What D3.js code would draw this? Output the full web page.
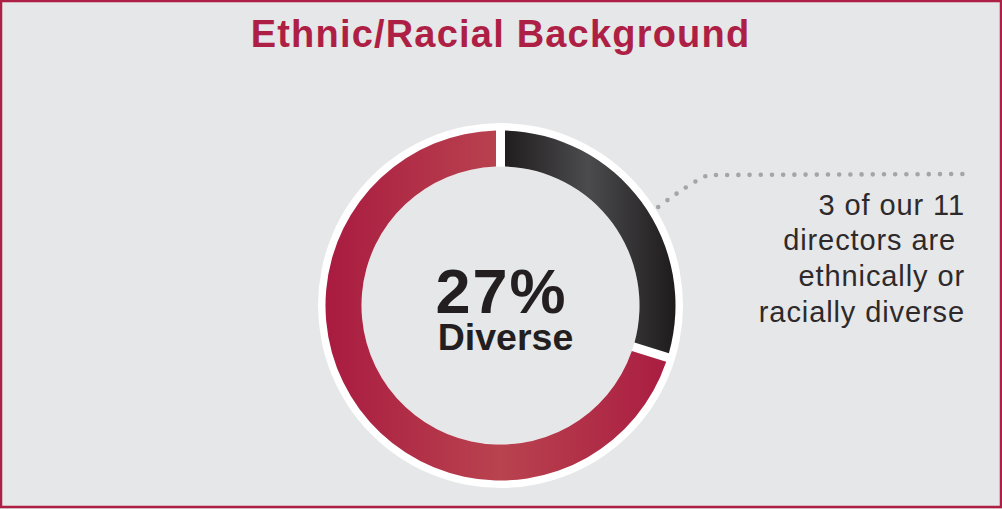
<!DOCTYPE html>
<html>
<head>
<meta charset="utf-8">
<script src="https://cdn.jsdelivr.net/npm/d3@7"></script>
<style>
  html, body { margin: 0; padding: 0; background: #e6e7e8; }
  svg { display: block; }
</style>
</head>
<body>
<script>
var w = 1002,
h = 509,
cx = 500.5,
cy = 305.5,
red = "#ae1f45",
ink = "#231f20",

// ring sizes
outerR = 175,
innerR = 139,
haloR = 182.5;

// data
var categories = ["Diverse", "Not diverse"];
var shares = [29.8, 70.2];          // share of the ring, in %
var bigLabel = "27%";
var subLabel = "Diverse";
var title = "Ethnic/Racial Background";
var noteLines = ["3 of our 11", "directors are ", "ethnically or", "racially diverse"];

var svg = d3.select("body").append("svg")
.attr("width", w)
.attr("height", h);

var defs = svg.append("defs");

// gradients live in the ring group's space (origin = ring centre)
// red runs lighter toward the middle of the ring
var gRed = defs.append("linearGradient")
.attr("id", "gRed")
.attr("gradientUnits", "userSpaceOnUse")
.attr("x1", -outerR).attr("x2", outerR)
.attr("y1", 0).attr("y2", 0);
gRed.append("stop").attr("offset", 0).attr("stop-color", "#a91b40");
gRed.append("stop").attr("offset", 0.5).attr("stop-color", "#b9434f");
gRed.append("stop").attr("offset", 1).attr("stop-color", "#a91b40");

var gDark = defs.append("linearGradient")
.attr("id", "gDark")
.attr("gradientUnits", "userSpaceOnUse")
.attr("x1", 0).attr("x2", outerR)
.attr("y1", 0).attr("y2", 0);
gDark.append("stop").attr("offset", 0).attr("stop-color", "#1f1b1c");
gDark.append("stop").attr("offset", 0.5).attr("stop-color", "#4b4b4d");
gDark.append("stop").attr("offset", 1).attr("stop-color", "#1f1b1c");

// background + frame
svg.append("rect")
.attr("x", 1).attr("y", 1)
.attr("width", w - 2).attr("height", h - 3)
.attr("fill", "#e6e7e8")
.attr("stroke", red)
.attr("stroke-width", 2.5);

svg.append("text")
.attr("x", cx)
.attr("y", 47)
.attr("text-anchor", "middle")
.attr("font-family", "'Liberation Sans', Arial, sans-serif")
.attr("font-weight", "bold")
.attr("font-size", 38)
.attr("letter-spacing", 1.2)
.attr("fill", red)
.text(title);

var ring = svg.append("g")
.attr("transform", "translate(" + cx + "," + cy + ")");

// white halo behind the ring
ring.append("circle")
.attr("r", haloR)
.attr("fill", "#ffffff");
ring.append("circle")
.attr("r", innerR)
.attr("fill", "#e6e7e8");

var pie = d3.pie().sort(null).value(function(d) { return d; });
var arc = d3.arc()
.innerRadius(innerR)
.outerRadius(outerR)
.padAngle(9 / outerR)
.padRadius(outerR);

var fills = ["url(#gDark)", "url(#gRed)"];

ring.selectAll("path.slice")
.data(pie(shares))
.enter().append("path")
.attr("class", "slice")
.attr("d", arc)
.attr("fill", function(d, i) { return fills[i]; });

// dotted leader from the dark slice to the note
var a0 = 58 * Math.PI / 180,
sx = cx + 186 * Math.sin(a0),
sy = cy - 186 * Math.cos(a0);
svg.append("path")
.attr("d", "M" + sx + "," + sy + " Q690,183 708,175 L966,174")
.attr("fill", "none")
.attr("stroke", "#a3a5a8")
.attr("stroke-width", 4.6)
.attr("stroke-linecap", "round")
.attr("stroke-dasharray", "0 11.2");

// centre label: one text block, two lines
var centre = svg.append("text")
.attr("text-anchor", "middle")
.attr("font-family", "'Liberation Sans', Arial, sans-serif")
.attr("font-weight", "bold")
.attr("fill", ink);

centre.append("tspan")
.attr("x", cx + 1)
.attr("y", 313)
.attr("font-size", 63)
.attr("letter-spacing", 2)
.text(bigLabel);

centre.append("tspan")
.attr("x", cx + 5)
.attr("y", 350)
.attr("font-size", 37.5)
.text(subLabel);

var note = svg.append("text")
.attr("text-anchor", "end")
.attr("font-family", "'Liberation Sans', Arial, sans-serif")
.attr("font-size", 29)
.attr("letter-spacing", 0.9)
.attr("fill", "#2e2a2b")
.style("white-space", "pre");

note.selectAll("tspan")
.data(noteLines)
.enter().append("tspan")
.attr("x", 965)
.attr("y", function(d, i) { return 214.5 + i * 35.8; })
.text(function(d) { return d; });
</script>
</body>
</html>
